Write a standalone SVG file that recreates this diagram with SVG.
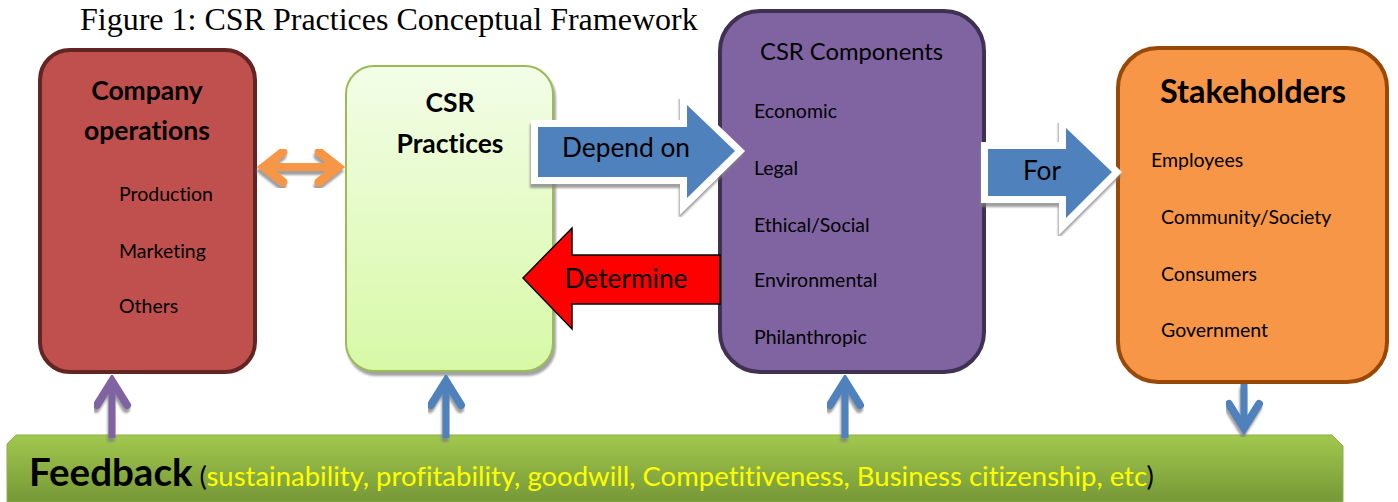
<svg xmlns="http://www.w3.org/2000/svg" width="1398" height="502" viewBox="0 0 1398 502">
  <defs>
    <style>
      .ttl { font-family: "Liberation Serif", "Times New Roman", serif; font-size: 32px; fill: #000; }
      .sans { font-family: Lato, "Open Sans", "Liberation Sans", sans-serif; fill: #000; font-variant-ligatures: none; }
      .head { font-weight: bold; font-size: 26.5px; text-anchor: middle; }
      .item { font-size: 19.5px; }
      .lbl { font-size: 26.3px; text-anchor: middle; }
      .chev { fill: none; stroke-linecap: round; stroke-linejoin: miter; stroke-miterlimit: 10; }
      .shaft { fill: none; stroke-linecap: butt; }
      .rim { fill: #fff; stroke: #fff; stroke-width: 14; stroke-linejoin: miter; stroke-miterlimit: 10; }
      .block { fill: #4F81BD; }
    </style>
    <linearGradient id="gPractice" x1="0" y1="0" x2="0" y2="1">
      <stop offset="0" stop-color="#F3FDE7"/>
      <stop offset="1" stop-color="#D7F9A6"/>
    </linearGradient>
    <linearGradient id="gFeedback" x1="0" y1="0" x2="0" y2="1">
      <stop offset="0" stop-color="#A1C84E"/>
      <stop offset="1" stop-color="#779837"/>
    </linearGradient>
    <filter id="shadow" x="-10%" y="-10%" width="125%" height="130%">
      <feGaussianBlur in="SourceAlpha" stdDeviation="1.2" result="b"/>
      <feOffset in="b" dx="-1" dy="4" result="o"/>
      <feFlood flood-color="#7f7f7f" flood-opacity="0.75"/>
      <feComposite in2="o" operator="in" result="s"/>
      <feMerge><feMergeNode in="s"/><feMergeNode in="SourceGraphic"/></feMerge>
    </filter>
    <filter id="boxShadow" x="-5%" y="-5%" width="112%" height="110%">
      <feGaussianBlur in="SourceAlpha" stdDeviation="1.2" result="b"/>
      <feOffset in="b" dx="2" dy="4" result="o"/>
      <feFlood flood-color="#8c8c8c" flood-opacity="0.8"/>
      <feComposite in2="o" operator="in" result="s"/>
      <feMerge><feMergeNode in="s"/><feMergeNode in="SourceGraphic"/></feMerge>
    </filter>
  </defs>

  <rect width="1398" height="502" fill="#fff"/>

  <text class="ttl" x="80" y="30">Figure 1: CSR Practices Conceptual Framework</text>

  <!-- feedback band along the bottom -->
  <g id="feedback">
    <polygon points="7,444 16,435 1332,435 1343,446 1343,502 7,502" fill="url(#gFeedback)" stroke="#8CAF46" stroke-width="1"/>
    <text class="sans" x="29" y="486"><tspan font-weight="bold" font-size="38.5px">Feedback</tspan><tspan font-size="27.5px"> (</tspan><tspan font-size="27.5px" fill="#FFFF00">sustainability, profitability, goodwill, Competitiveness, Business citizenship, etc</tspan><tspan font-size="27.5px">)</tspan></text>
  </g>

  <g id="company-operations">
    <rect x="40" y="50" width="215" height="322" rx="30" fill="#C0504D" stroke="#632523" stroke-width="4"/>
    <text class="sans head" x="147" y="100">Company</text>
    <text class="sans head" x="147" y="140">operations</text>
    <text class="sans item" x="119" y="201">Production</text>
    <text class="sans item" x="119" y="258">Marketing</text>
    <text class="sans item" x="119" y="313">Others</text>
  </g>

  <g id="csr-practices">
    <rect x="346" y="66" width="207" height="305" rx="28" fill="url(#gPractice)" stroke="#9BBB59" stroke-width="2" filter="url(#boxShadow)"/>
    <text class="sans head" x="450" y="112">CSR</text>
    <text class="sans head" x="450" y="153">Practices</text>
  </g>

  <g id="csr-components">
    <rect x="720" y="11" width="264" height="361" rx="40" fill="#8064A2" stroke="#3F3151" stroke-width="4"/>
    <text class="sans" x="760" y="60" font-size="23.8px">CSR Components</text>
    <text class="sans item" x="754" y="118">Economic</text>
    <text class="sans item" x="754" y="175">Legal</text>
    <text class="sans item" x="754" y="232">Ethical/Social</text>
    <text class="sans item" x="754" y="287">Environmental</text>
    <text class="sans item" x="754" y="344">Philanthropic</text>
  </g>

  <g id="stakeholders">
    <rect x="1118" y="48" width="269" height="334" rx="40" fill="#F79646" stroke="#984807" stroke-width="4"/>
    <text class="sans" x="1253" y="103" font-size="32.4px" font-weight="bold" fill="#1B3C75" text-anchor="middle">Stakeholders</text>
    <text class="sans item" x="1151" y="167">Employees</text>
    <text class="sans item" x="1161" y="224">Community/Society</text>
    <text class="sans item" x="1161" y="281">Consumers</text>
    <text class="sans item" x="1161" y="337">Government</text>
  </g>

  <g id="connectors">
    <!-- two-way link between operations and practices -->
    <g filter="url(#shadow)" stroke="#F79646">
      <path class="shaft" d="M263,167 H339" stroke-width="8"/>
      <path class="chev" d="M283,152 L264,167 L283,182" stroke-width="9"/>
      <path class="chev" d="M319,152 L338,167 L319,182" stroke-width="9"/>
    </g>

    <!-- block arrows: white rim under a blue body -->
    <g filter="url(#shadow)">
      <polygon class="rim" points="538,127 687,127 687,105 735,151 687,198 687,177 538,177"/>
      <polygon class="block" points="538,127 687,127 687,105 735,151 687,198 687,177 538,177"/>
    </g>
    <text class="sans lbl" x="626" y="157">Depend on</text>

    <polygon points="523,278 572,228 572,255 720,255 720,304 572,304 572,329" fill="#FF0000" stroke="#000" stroke-width="1.5"/>
    <text class="sans lbl" x="626" y="288">Determine</text>

    <g filter="url(#shadow)">
      <polygon class="rim" points="988,149 1066,149 1066,128 1112,172 1066,218 1066,196 988,196"/>
      <polygon class="block" points="988,149 1066,149 1066,128 1112,172 1066,218 1066,196 988,196"/>
    </g>
    <text class="sans lbl" x="1042" y="180">For</text>

    <!-- feedback arrows -->
    <g filter="url(#shadow)" stroke="#8064A2">
      <path class="shaft" d="M112,438 V382" stroke-width="7"/>
      <path class="chev" d="M97,405 L112,381 L127,405" stroke-width="8"/>
    </g>
    <g filter="url(#shadow)" stroke="#4F81BD">
      <path class="shaft" d="M446,438 V382" stroke-width="7"/>
      <path class="chev" d="M431,405 L446,381 L461,405" stroke-width="8"/>
    </g>
    <g filter="url(#shadow)" stroke="#4F81BD">
      <path class="shaft" d="M845,438 V382" stroke-width="7"/>
      <path class="chev" d="M830,405 L845,381 L860,405" stroke-width="8"/>
    </g>
    <g filter="url(#shadow)" stroke="#4F81BD">
      <path class="shaft" d="M1244,384 V428" stroke-width="7"/>
      <path class="chev" d="M1229,404 L1244,428 L1259,404" stroke-width="8"/>
    </g>
  </g>
</svg>
